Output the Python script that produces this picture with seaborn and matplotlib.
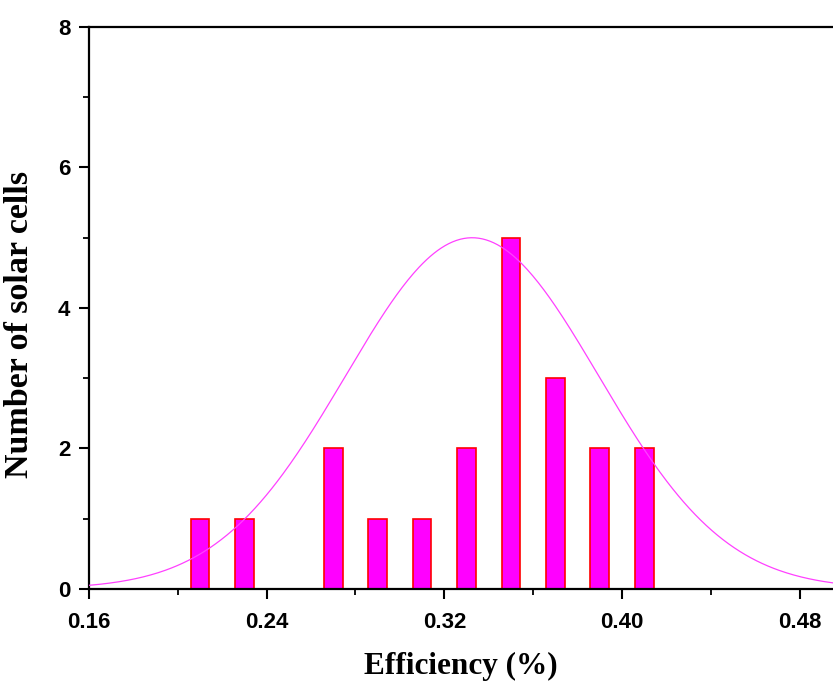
import matplotlib
matplotlib.use("Agg")
import matplotlib.pyplot as plt
import seaborn as sns
import numpy as np
import pandas as pd
from matplotlib.ticker import MultipleLocator

# histogram of cell efficiencies
efficiency = [0.21, 0.23, 0.27, 0.29, 0.31, 0.33, 0.35, 0.37, 0.39, 0.41]
n_cells = [1, 1, 2, 1, 1, 2, 5, 3, 2, 2]

# gaussian fit parameters
fit_center = 0.3325
fit_sigma = 0.057
fit_amp = 5.0

sns.set_style("ticks")
plt.rcParams["font.family"] = ["Liberation Sans", "DejaVu Sans"]
plt.rcParams["text.color"] = "black"
plt.rcParams["xtick.color"] = "black"
plt.rcParams["ytick.color"] = "black"
plt.rcParams["axes.labelcolor"] = "black"

df = pd.DataFrame({"eff": efficiency, "n": n_cells})
xs = np.linspace(0.16, 0.495, 400)
fit = pd.DataFrame({"x": xs, "y": fit_amp * np.exp(-(xs - fit_center) ** 2 / (2 * fit_sigma ** 2))})

fig = plt.figure(figsize=(8.33, 6.84), dpi=100)
ax = fig.add_axes([0.1068, 0.139, 0.8932, 0.8215])

sns.barplot(data=df, x="eff", y="n", native_scale=True, width=0.42,
            color="#ff00ff", edgecolor="#ff0000", linewidth=1.2,
            saturation=1, ax=ax, zorder=2)
sns.lineplot(data=fit, x="x", y="y", color="#ff40ff", linewidth=0.9, ax=ax, zorder=3)

ax.set_xlim(0.16, 0.495)
ax.set_ylim(0, 8)
ax.xaxis.set_minor_locator(MultipleLocator(0.04))
ax.yaxis.set_major_locator(MultipleLocator(2))
ax.yaxis.set_minor_locator(MultipleLocator(1))
ax.set_xticks([0.16, 0.24, 0.32, 0.40, 0.48])
ax.set_xticklabels(["0.16", "0.24", "0.32", "0.40", "0.48"])

for side in ["left", "bottom", "top"]:
    ax.spines[side].set_linewidth(1.6)
    ax.spines[side].set_color("black")
ax.spines["right"].set_visible(False)
ax.tick_params(which="major", direction="out", length=7.5, width=1.5, labelsize=16)
ax.tick_params(axis="y", which="major", pad=6)
ax.tick_params(axis="x", which="major", pad=9)
ax.tick_params(which="minor", direction="out", length=4, width=1.3)
for lab in ax.get_xticklabels() + ax.get_yticklabels():
    lab.set_fontweight("bold")

ax.set_xlabel("Efficiency (%)", family=["Liberation Serif", "DejaVu Serif"],
              fontweight="bold", fontsize=22.5)
ax.set_ylabel("Number of solar cells", family=["Liberation Serif", "DejaVu Serif"],
              fontweight="bold", fontsize=24.5)
ax.xaxis.set_label_coords(0.5, -0.113)
ax.yaxis.set_label_coords(-0.072, 0.47)

fig.savefig("out.png", dpi=100)
plt.close(fig)
